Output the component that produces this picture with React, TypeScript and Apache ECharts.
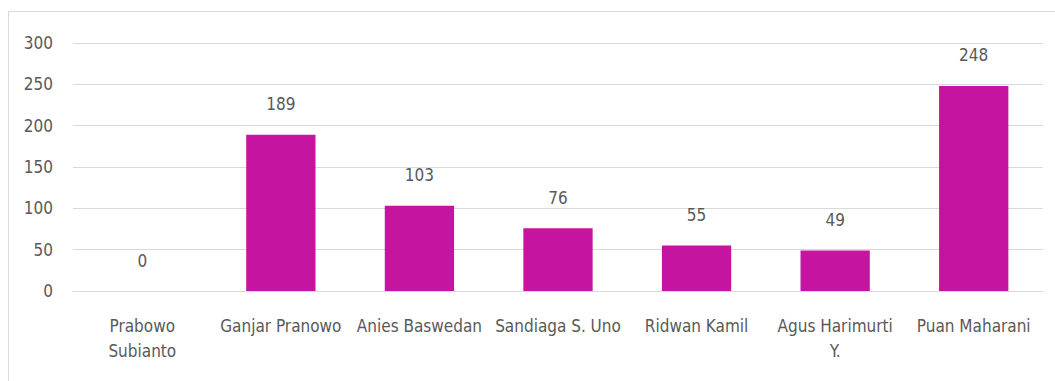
import React, { useEffect, useRef } from "react";
import * as echarts from "echarts";

const categories = [
  "Prabowo Subianto",
  "Ganjar Pranowo",
  "Anies Baswedan",
  "Sandiaga S. Uno",
  "Ridwan Kamil",
  "Agus Harimurti Y.",
  "Puan Maharani",
];
const tickLabels = [
  "Prabowo\nSubianto",
  "Ganjar Pranowo",
  "Anies Baswedan",
  "Sandiaga S. Uno",
  "Ridwan Kamil",
  "Agus Harimurti\nY.",
  "Puan Maharani",
];
const values = [0, 189, 103, 76, 55, 49, 248];

const FONT = "'Liberation Sans Narrow', 'DejaVu Sans Condensed', 'Open Sans', sans-serif";

export default function App() {
  const ref = useRef<HTMLDivElement>(null);
  useEffect(() => {
    document.body.style.margin = "0";
    const chart = echarts.init(ref.current!, undefined, { renderer: "svg" });
    chart.setOption({
      animation: false,
      backgroundColor: "#ffffff",
      textStyle: { fontFamily: FONT },
      graphic: [
        {
          type: "rect",
          shape: { x: 8.5, y: 11.5, width: 1100, height: 400 },
          style: { fill: "none", stroke: "#D9D9D9", lineWidth: 1 },
          silent: true,
          z: -1,
        },
      ],
      grid: { left: 73, right: 12, top: 43, bottom: 90 },
      xAxis: {
        type: "category",
        data: categories,
        axisLine: { show: true, lineStyle: { color: "#D9D9D9" } },
        axisTick: { show: false },
        axisLabel: {
          interval: 0,
          margin: 22,
          color: "#595959",
          fontSize: 17,
          lineHeight: 25,
          fontFamily: FONT,
          formatter: (_v: string, i: number) => tickLabels[i],
        },
      },
      yAxis: {
        type: "value",
        min: 0,
        max: 300,
        interval: 50,
        axisLine: { show: false },
        axisTick: { show: false },
        splitLine: { lineStyle: { color: "#D9D9D9", width: 1 } },
        axisLabel: { color: "#595959", fontSize: 17, margin: 20, fontFamily: FONT },
      },
      series: [
        {
          type: "bar",
          data: values,
          barWidth: "50%",
          itemStyle: { color: "#C5149F" },
          label: {
            show: true,
            position: "top",
            distance: 22,
            color: "#595959",
            fontSize: 17,
            fontFamily: FONT,
          },
        },
      ],
    });
    return () => chart.dispose();
  }, []);
  return <div ref={ref} style={{ width: 1055, height: 381 }} />;
}
